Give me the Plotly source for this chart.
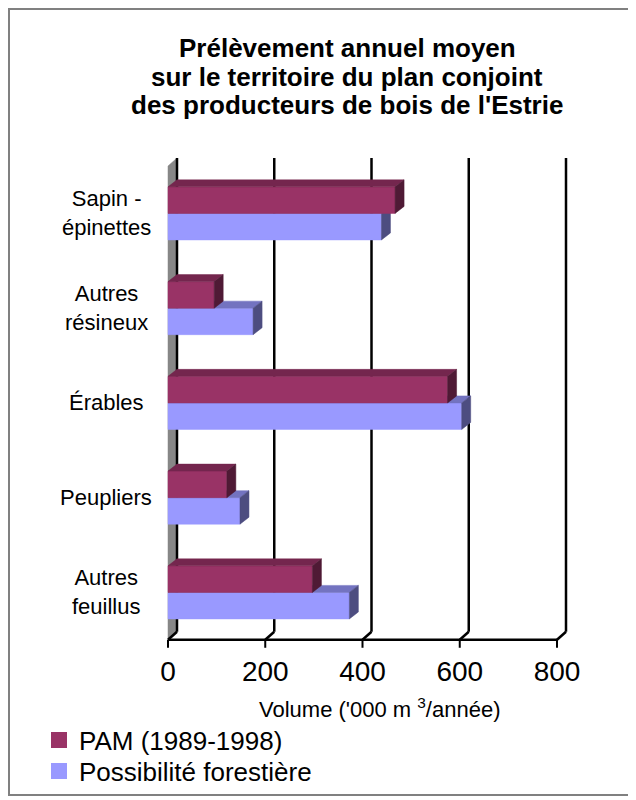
import plotly.graph_objects as go

# ---------------- data ----------------
categories = ["Sapin -<br>épinettes", "Autres<br>résineux", "Érables", "Peupliers", "Autres<br>feuillus"]
pam_values = [467, 95, 575, 121, 297]          # PAM (1989-1998)
poss_values = [439, 175, 604, 148, 373]        # Possibilité forestière
x_tick_values = [0, 200, 400, 600, 800]
series_names = ["PAM (1989-1998)", "Possibilité forestière"]
title_lines = ["Prélèvement annuel moyen",
               "sur le territoire du plan conjoint",
               "des producteurs de bois de l'Estrie"]
x_title = "Volume ('000 m <sup>3</sup>/année)"

# ---------------- style / geometry ----------------
FONT = "Liberation Sans, Arial, sans-serif"
PAM_FRONT, PAM_TOP, PAM_SIDE = "#993366", "#74264e", "#4f1a35"
POSS_FRONT, POSS_TOP, POSS_SIDE = "#9999ff", "#7373c0", "#4d4d80"
WALL = "#878787"

OFF = 8                       # page body margin
W, H = 636 - OFF, 800 - OFF
ML, MR, MT, MB = 150 - OFF, 60, 145 - OFF, 152
PX_PER_X = 0.48625            # px per data unit (x)
X0_PX = 168 - OFF             # px position of x=0
PX_PER_Y = 94.75              # px per category step
Y0_PX = 592.4 - OFF           # px position of category index 0 (bottom)

plot_w = W - ML - MR
plot_h = H - MT - MB
x_range = [(ML - X0_PX) / PX_PER_X, (W - MR - X0_PX) / PX_PER_X]
y_range = [-(H - MB - Y0_PX) / PX_PER_Y, (Y0_PX - MT) / PX_PER_Y]


def px_x(p):   # reference screen px -> paper x
    return (p - OFF - ML) / plot_w


def px_y(p):   # reference screen px -> paper y
    return (H - MB - (p - OFF)) / plot_h


# 3D offsets (converted from px to data units)
BACK_DX, BACK_DY = 9 / PX_PER_X, 8 / PX_PER_Y
BAR_DX, BAR_DY = 9 / PX_PER_X, 7 / PX_PER_Y
BAR_H = 0.28
FLOOR, TOP = -0.5, 4.5
TICK_LEN = 8 / PX_PER_Y

fig = go.Figure()


def poly(xs, ys, color):
    fig.add_trace(go.Scatter(
        x=xs + [xs[0]], y=ys + [ys[0]], mode="lines", fill="toself",
        fillcolor=color, line=dict(width=0.5, color=color),
        hoverinfo="skip", showlegend=False))


def line(xs, ys, width=2.5, color="black"):
    fig.add_trace(go.Scatter(
        x=xs, y=ys, mode="lines", line=dict(width=width, color=color),
        hoverinfo="skip", showlegend=False))


# left wall
poly([0, BACK_DX, BACK_DX, 0],
     [FLOOR, FLOOR + BACK_DY, TOP + BACK_DY, TOP], WALL)

# back gridlines, floor diagonals, front floor line and ticks
for v in x_tick_values:
    line([v + BACK_DX, v + BACK_DX], [FLOOR + BACK_DY, TOP + BACK_DY])
    line([v, v + BACK_DX], [FLOOR, FLOOR + BACK_DY])
    line([v, v], [FLOOR, FLOOR - TICK_LEN], width=2)
line([0, x_tick_values[-1]], [FLOOR, FLOOR])


def bar3d(value, y_low, front, top, side):
    y_high = y_low + BAR_H
    poly([0, value, value, 0], [y_low, y_low, y_high, y_high], front)
    poly([0, value, value + BAR_DX, BAR_DX],
         [y_high, y_high, y_high + BAR_DY, y_high + BAR_DY], top)
    poly([value, value + BAR_DX, value + BAR_DX, value],
         [y_low, y_low + BAR_DY, y_high + BAR_DY, y_high], side)


n = len(categories)
for i, cat in enumerate(categories):
    pos = n - 1 - i
    bar3d(poss_values[i], pos - BAR_H, POSS_FRONT, POSS_TOP, POSS_SIDE)
    bar3d(pam_values[i], pos, PAM_FRONT, PAM_TOP, PAM_SIDE)
    y_screen = Y0_PX + OFF - pos * PX_PER_Y
    fig.add_annotation(x=px_x(106), y=px_y(y_screen), xref="paper", yref="paper",
                       text=cat, showarrow=False, align="center",
                       xanchor="center", yanchor="middle",
                       font=dict(family=FONT, size=22, color="black"))

# legend entries (one legend per series for exact placement)
legend_ids = ["legend", "legend2"]
for name, col, lid in zip(series_names, [PAM_FRONT, POSS_FRONT], legend_ids):
    fig.add_trace(go.Scatter(x=[None], y=[None], mode="markers", name=name,
                             legend=lid,
                             marker=dict(symbol="square", size=16, color=col)))

# title lines
for k, (t, yc) in enumerate(zip(title_lines, [48, 76.5, 105])):
    fig.add_annotation(x=px_x(347), y=px_y(yc), xref="paper", yref="paper",
                       text="<b>" + t + "</b>", showarrow=False,
                       xanchor="center", yanchor="middle",
                       font=dict(family=FONT, size=26, color="black"))

# axis title
fig.add_annotation(x=px_x(379), y=px_y(708), xref="paper", yref="paper",
                   showarrow=False, text=x_title,
                   xanchor="center", yanchor="middle",
                   font=dict(family=FONT, size=22, color="black"))

# outer border (left/top edges sit at the page edge)
fig.add_shape(type="rect", xref="paper", yref="paper",
              x0=px_x(OFF + 1), x1=px_x(631), y0=px_y(795), y1=px_y(OFF + 1),
              line=dict(color="#808080", width=2), layer="below")

legend_common = dict(xref="container", yref="container", xanchor="left",
                     yanchor="top", bgcolor="rgba(0,0,0,0)",
                     font=dict(family=FONT, size=26, color="black"),
                     itemsizing="trace")

fig.update_layout(
    width=W, height=H,
    margin=dict(l=ML, r=MR, t=MT, b=MB, autoexpand=False),
    paper_bgcolor="white", plot_bgcolor="white",
    xaxis=dict(range=x_range, showgrid=False, zeroline=False, showline=False,
               tickvals=x_tick_values, ticks="", ticklabelstandoff=4,
               tickfont=dict(family=FONT, size=28, color="black"), fixedrange=True,
               automargin=False),
    yaxis=dict(range=y_range, showgrid=False, zeroline=False, showline=False,
               showticklabels=False, ticks="", fixedrange=True, automargin=False),
    legend=dict(x=31 / W, y=1 - (737.5 - OFF - 21) / H, **legend_common),
    legend2=dict(x=31 / W, y=1 - (768.5 - OFF - 21) / H, **legend_common),
    showlegend=True,
)

fig.write_html("out.html")
